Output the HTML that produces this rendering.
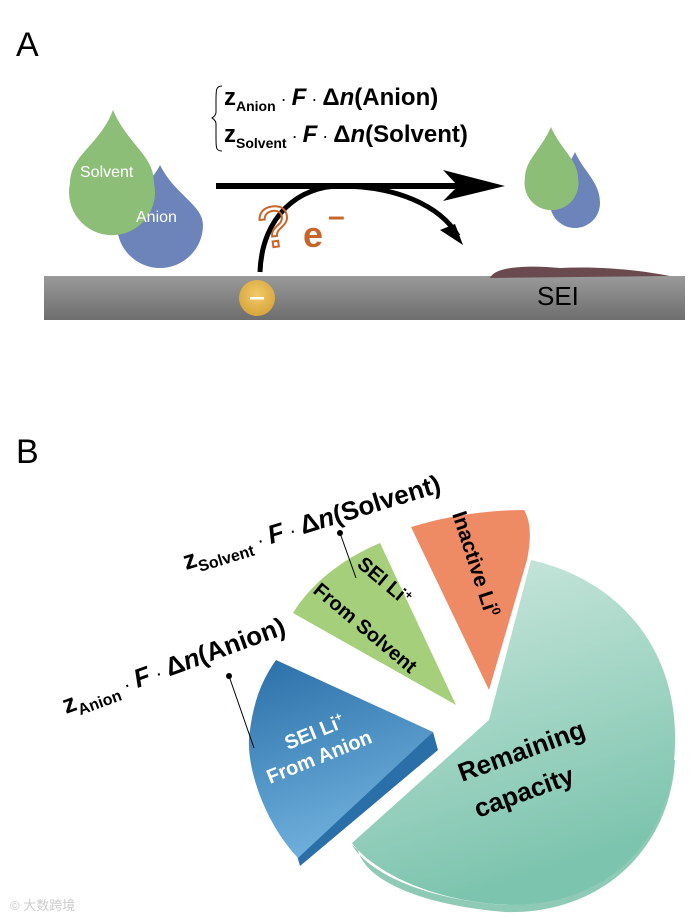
<!DOCTYPE html>
<html><head><meta charset="utf-8"><style>
html,body{margin:0;padding:0;background:#fff;}
svg{display:block;font-family:"Liberation Sans",Arial,sans-serif;}
</style></head><body>
<svg width="694" height="919" viewBox="0 0 694 919" xmlns="http://www.w3.org/2000/svg">
<defs>
<linearGradient id="bar" x1="0" y1="0" x2="0" y2="1"><stop offset="0" stop-color="#9a9a9a"/><stop offset="1" stop-color="#6e6e6e"/></linearGradient>
<linearGradient id="teal" x1="0" y1="0" x2="0.3" y2="1"><stop offset="0" stop-color="#cfe9e0"/><stop offset="1" stop-color="#7cc4ad"/></linearGradient>
<linearGradient id="blue" x1="0" y1="0" x2="0.3" y2="1"><stop offset="0" stop-color="#2a6fa8"/><stop offset="1" stop-color="#6fb0dc"/></linearGradient>
<radialGradient id="gold" cx="0.5" cy="0.4" r="0.6"><stop offset="0" stop-color="#f2c96a"/><stop offset="1" stop-color="#d7a63c"/></radialGradient>
</defs>
<text x="16" y="56" font-size="34">A</text>
<text x="16" y="463" font-size="34">B</text>
<rect x="44" y="276" width="641" height="44" fill="url(#bar)"/>
<path d="M490 278 C495 266 530 265 560 268 C600 266 640 270 670 276 L490 278 Z" fill="#6a4a4e"/>
<text x="537" y="305" font-size="26">SEI</text>
<circle cx="257" cy="298" r="18" fill="url(#gold)"/>
<rect x="250" y="297" width="14" height="2.5" fill="#fff"/>
<path d="M260 272 C262 215 300 186 340 186 C395 186 440 205 458 236" fill="none" stroke="#000" stroke-width="5"/>
<polygon points="463,245 440,230 455,224" fill="#000"/>
<line x1="216" y1="186" x2="470" y2="186" stroke="#000" stroke-width="6"/>
<polygon points="505,186 443,170 458,186 443,201" fill="#000"/>
<text x="258" y="246" font-size="58" fill="none" stroke="#c8662a" stroke-width="2" transform="rotate(-8 280 225)">?</text>
<text x="303" y="247" font-size="36" font-weight="bold" fill="#c8662a">e</text>
<text x="328" y="226" font-size="30" font-weight="bold" fill="#c8662a">–</text>
<!-- drops -->
<path d="M160 165 C175 195 203 205 203 225 A43 43 0 1 1 117 225 C117 200 148 190 160 165 Z" fill="#6d84ba"/>
<path d="M113 110 C128 145 154 155 154 183 A43 43 0 1 1 70 183 C70 155 100 145 113 110 Z" fill="#8cbe78"/>
<text x="80" y="177" font-size="16" fill="#fff">Solvent</text>
<text x="136" y="222" font-size="16" fill="#fff">Anion</text>
<path d="M575 152 C584 172 600 182 600 203 A25 25 0 1 1 550 203 C550 182 566 172 575 152 Z" fill="#6d84ba"/>
<path d="M551 127 C561 150 578 160 578 178 A27 27 0 1 1 525 178 C525 160 541 150 551 127 Z" fill="#8cbe78"/>
<!-- formulas -->
<path d="M222 86 C216 86 216 90 216 100 L216 112 C216 116 213 117 212 118 C213 119 216 120 216 124 L216 138 C216 148 216 151 222 151" fill="none" stroke="#000" stroke-width="1"/>
<text x="224" y="105" font-size="24" font-weight="bold">z<tspan font-size="14" dy="6">Anion</tspan><tspan dy="-6" font-weight="normal" font-size="18"> · </tspan><tspan font-style="italic">F</tspan><tspan font-weight="normal" font-size="18"> · </tspan>Δ<tspan font-style="italic">n</tspan>(Anion)</text>
<text x="224" y="142" font-size="24" font-weight="bold">z<tspan font-size="14" dy="6">Solvent</tspan><tspan dy="-6" font-weight="normal" font-size="18"> · </tspan><tspan font-style="italic">F</tspan><tspan font-weight="normal" font-size="18"> · </tspan>Δ<tspan font-style="italic">n</tspan>(Solvent)</text>
<!-- pie B -->
<path d="M358 850 C365 880 420 905 505 912 C600 915 670 850 675 760 L670 760 C660 850 600 905 505 905 C430 900 370 875 352 845 Z" fill="#8fcab6"/>
<path d="M489 720 L531 560 C620 580 678 650 675 745 C672 840 610 905 510 905 C430 902 372 870 352 843 Z" fill="url(#teal)"/>
<path d="M433 732 L438 750 L300 866 L296 852 Z" fill="#2a6fa8"/>
<path d="M276 660 L433 732 L298 858 C262 820 244 760 250 730 C254 700 262 680 276 660 Z" fill="url(#blue)"/>
<path d="M380 543 L456 705 L293 613 C310 585 340 560 380 543 Z" fill="#a5cf7a"/>
<path d="M411 527 C450 515 490 510 524 510 C530 520 532 535 527 560 L489 690 Z" fill="#ee8a64"/>
<text font-size="21" font-weight="bold" transform="translate(452 514) rotate(72)">Inactive Li<tspan font-size="12" dy="-8">0</tspan></text>
<text font-size="20" font-weight="bold" transform="translate(356 566) rotate(40)">SEI Li<tspan font-size="12" dy="-8">+</tspan></text>
<text font-size="20" font-weight="bold" transform="translate(312 592) rotate(40)">From Solvent</text>
<text font-size="20" font-weight="bold" fill="#fff" transform="translate(288 750) rotate(-22)">SEI Li<tspan font-size="12" dy="-8">+</tspan></text>
<text font-size="20" font-weight="bold" fill="#fff" transform="translate(270 784) rotate(-22)">From Anion</text>
<text font-size="26" font-weight="bold" transform="translate(462 782) rotate(-20)">Remaining</text>
<text font-size="26" font-weight="bold" transform="translate(478 818) rotate(-20)">capacity</text>
<text font-size="26" font-weight="bold" transform="translate(186 570) rotate(-17)">z<tspan font-size="16" dy="6">Solvent</tspan><tspan dy="-6" font-weight="normal" font-size="20"> · </tspan><tspan font-style="italic">F</tspan><tspan font-weight="normal" font-size="20"> · </tspan>Δ<tspan font-style="italic">n</tspan>(Solvent)</text>
<text font-size="26" font-weight="bold" transform="translate(66 714) rotate(-20)">z<tspan font-size="16" dy="6">Anion</tspan><tspan dy="-6" font-weight="normal" font-size="20"> · </tspan><tspan font-style="italic">F</tspan><tspan font-weight="normal" font-size="20"> · </tspan>Δ<tspan font-style="italic">n</tspan>(Anion)</text>
<circle cx="340" cy="533" r="3" fill="#000"/><line x1="340" y1="533" x2="356" y2="578" stroke="#000" stroke-width="1"/>
<circle cx="229" cy="676" r="3" fill="#000"/><line x1="229" y1="676" x2="254" y2="748" stroke="#000" stroke-width="1"/>
<text x="10" y="910" font-size="13" fill="#ccc" font-family="'Liberation Sans','Noto Sans CJK SC',sans-serif">© 大数跨境</text>
</svg>
</body></html>
